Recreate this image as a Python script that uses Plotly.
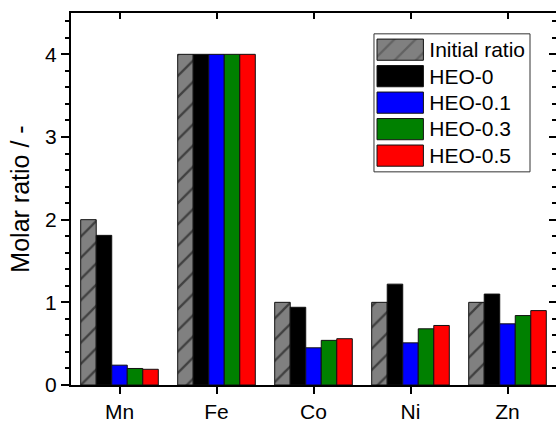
import plotly.graph_objects as go

# Element categories on the x axis
elements = ["Mn", "Fe", "Co", "Ni", "Zn"]

# Molar ratios per sample
initial_ratio = [2.00, 4.00, 1.00, 1.00, 1.00]
heo_0 = [1.81, 4.00, 0.94, 1.22, 1.10]
heo_01 = [0.24, 4.00, 0.45, 0.51, 0.74]
heo_03 = [0.20, 4.00, 0.54, 0.68, 0.84]
heo_05 = [0.19, 4.00, 0.56, 0.72, 0.90]

series_names = ["Initial ratio", "HEO-0", "HEO-0.1", "HEO-0.3", "HEO-0.5"]
series_values = [initial_ratio, heo_0, heo_01, heo_03, heo_05]
series_colors = ["#808080", "#000000", "#0000FF", "#008000", "#FF0000"]
series_hatch = ["/", "", "", "", ""]

FONT = "Liberation Sans, Arial, sans-serif"

fig = go.Figure()

for name, vals, col, hatch in zip(series_names, series_values, series_colors, series_hatch):
    fig.add_trace(go.Bar(
        x=elements, y=vals, name=name,
        marker=dict(
            color=col,
            line=dict(color="#111111", width=1),
            pattern=dict(shape=hatch, fgcolor="#000000", bgcolor=col,
                         size=15, solidity=0.15),
        ),
        showlegend=False,
    ))

# Empty trace so the mirrored top/right frame axes get drawn
fig.add_trace(go.Scatter(x=[], y=[], xaxis="x2", yaxis="y2",
                         showlegend=False, hoverinfo="skip"))

# Key: one swatch per series, drawn as bars in an inset subplot
fig.add_trace(go.Bar(
    x=[1] * len(series_names), y=series_names, orientation="h",
    xaxis="x3", yaxis="y3",
    marker=dict(
        color=series_colors,
        line=dict(color="#111111", width=1),
        pattern=dict(shape=series_hatch, fgcolor="#000000", bgcolor=series_colors,
                     size=15, solidity=0.15),
    ),
    showlegend=False, hoverinfo="skip",
))

axis_common = dict(showgrid=False, zeroline=False, linecolor="black",
                   tickcolor="black", tickwidth=2)

fig.update_layout(
    width=556, height=423,
    margin=dict(l=71, r=0, t=13, b=35),
    paper_bgcolor="white", plot_bgcolor="white",
    font=dict(family=FONT, size=21, color="black"),
    barmode="group", bargap=0.2, bargroupgap=0,
    xaxis=dict(**axis_common, type="category", range=[-0.5, 4.5],
               showline=True, linewidth=2, ticks="outside", ticklen=7,
               tickfont=dict(size=21)),
    yaxis=dict(**axis_common, range=[0, 4.5], dtick=1, tick0=0,
               showline=True, linewidth=2, ticks="outside", ticklen=8,
               tickfont=dict(size=21),
               minor=dict(dtick=0.2, ticks="outside", ticklen=4,
                          tickwidth=2, tickcolor="black"),
               title=dict(text="Molar ratio / -", font=dict(size=25),
                          standoff=8)),
    xaxis2=dict(**axis_common, overlaying="x", anchor="y2", side="top",
                type="linear", range=[-0.5, 4.5], tickvals=[0, 1, 2, 3, 4],
                showticklabels=False, showline=True, linewidth=2,
                ticks="inside", ticklen=6),
    yaxis2=dict(**axis_common, overlaying="y", anchor="x2", side="right",
                range=[0, 4.5], dtick=1, tick0=0, showticklabels=False,
                showline=False, ticks="inside", ticklen=7,
                minor=dict(dtick=0.2, ticks="inside", ticklen=4,
                           tickwidth=2, tickcolor="black")),
    xaxis3=dict(domain=[0.629, 0.7285], anchor="y3", range=[-0.02, 1.02],
                visible=False, fixedrange=True),
    yaxis3=dict(domain=[0.581, 0.937], anchor="x3", side="right",
                autorange="reversed", type="category", showgrid=False,
                zeroline=False, showline=False, ticks="",
                tickfont=dict(size=21), ticklabelstandoff=4, fixedrange=True),
    shapes=[dict(type="rect", xref="paper", yref="paper",
                 x0=0.6247, x1=0.9464, y0=0.573, y1=0.944,
                 line=dict(color="#333333", width=1), layer="above")],
)

fig.write_html("out.html")
